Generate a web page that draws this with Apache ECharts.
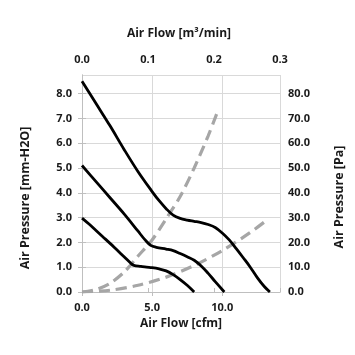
<!DOCTYPE html>
<html>
<head>
<meta charset="utf-8">
<script src="https://cdn.jsdelivr.net/npm/echarts@6/dist/echarts.min.js"></script>
<style>html,body{margin:0;padding:0;background:#fff;}#c{width:355px;height:355px;}</style>
</head>
<body>
<div id="c"></div>
<script>
// Air flow (cfm) / static pressure (mm-H2O) readings
const curveHigh = [[0,8.5],[1,7.6],[2,6.7],[3,5.75],[4,4.85],[5,4.05],[5.5,3.68],[6,3.36],[6.5,3.1],[7,2.97],[7.5,2.9],[8,2.85],[8.5,2.8],[9,2.72],[9.5,2.6],[10,2.38],[10.5,2.1],[11,1.75],[11.5,1.38],[12,1.0],[12.5,0.58],[13,0.22],[13.4,0]];
const curveMid = [[0,5.1],[1,4.45],[2,3.8],[3,3.15],[4,2.45],[4.5,2.1],[4.9,1.88],[5.3,1.8],[6,1.73],[6.5,1.67],[7,1.55],[7.5,1.42],[8,1.28],[8.5,1.05],[9,0.75],[9.5,0.42],[10.15,0]];
const curveLow = [[0,2.98],[0.5,2.74],[1,2.48],[1.5,2.22],[2,1.96],[2.5,1.69],[3,1.42],[3.5,1.15],[3.7,1.07],[4.2,1.03],[4.6,1.0],[5,0.98],[5.5,0.93],[6,0.85],[6.5,0.7],[7,0.5],[7.5,0.27],[8,0]];
const impedanceSteep = [[0,0],[1,0.1],[2,0.35],[3,0.8],[4,1.45],[5,2.1],[6,2.95],[7,3.85],[8,5.0],[9,6.3],[9.65,7.25]];
const impedanceShallow = [[0,0],[2,0.07],[4,0.27],[6,0.6],[8,1.07],[10,1.67],[12,2.4],[13.3,2.95]];

const bottomTitle = 'Air Flow [cfm]';
const topTitle = 'Air Flow [m³/min]';
const leftTitle = 'Air Pressure [mm-H2O]';
const rightTitle = 'Air Pressure [Pa]';

const FONT = '"Open Sans", sans-serif';
const TXT = '#1a1a1a';
const AX = '#bfbfbf';
const GRID = '#d9d9d9';

const lbl = (fixed) => ({
  color: TXT, fontFamily: FONT, fontWeight: 'bold', fontSize: 11,
  formatter: v => (Math.abs(v / fixed.step - Math.round(v / fixed.step)) < 1e-6 ? Number(v).toFixed(1) : '')
});

const chart = echarts.init(document.getElementById('c'), null, {renderer: 'canvas'});
const blackLine = (d) => ({type: 'line', data: d, xAxisIndex: 0, yAxisIndex: 0, smooth: 0.35, symbol: 'none',
  lineStyle: {color: '#000', width: 2.8}, z: 3});
const dashLine = (d) => ({type: 'line', data: d, xAxisIndex: 0, yAxisIndex: 0, smooth: 0.3, symbol: 'none',
  lineStyle: {color: '#a6a6a6', width: 3.2, type: [11, 6]}, z: 2});

chart.setOption({
  animation: false,
  backgroundColor: '#fff',
  grid: {left: 82, right: 75, top: 75, bottom: 63, containLabel: false},
  xAxis: [
    {type: 'value', position: 'bottom', min: 0, max: 14.12, interval: 5,
     axisLine: {show: true, lineStyle: {color: AX, width: 1}},
     axisTick: {show: true, length: 4, lineStyle: {color: AX}},
     splitLine: {show: true, lineStyle: {color: GRID, width: 1}},
     axisLabel: Object.assign(lbl({step: 5}), {margin: 10, showMaxLabel: false})},
    {type: 'value', position: 'top', min: 0, max: 0.3, interval: 0.1,
     axisLine: {show: true, lineStyle: {color: AX, width: 1}},
     axisTick: {show: true, length: 4, lineStyle: {color: AX}},
     splitLine: {show: false},
     axisLabel: Object.assign(lbl({step: 0.1}), {margin: 10})}
  ],
  yAxis: [
    {type: 'value', position: 'left', min: 0, max: 8.75, interval: 1,
     axisLine: {show: true, lineStyle: {color: AX, width: 1}},
     axisTick: {show: true, length: 4, lineStyle: {color: AX}},
     splitLine: {show: true, lineStyle: {color: GRID, width: 1}},
     axisLabel: Object.assign(lbl({step: 1}), {margin: 10, showMaxLabel: false})},
    {type: 'value', position: 'right', min: 0, max: 87.5, interval: 10,
     axisLine: {show: true, lineStyle: {color: AX, width: 1}},
     axisTick: {show: true, length: 4, lineStyle: {color: AX}},
     splitLine: {show: false},
     axisLabel: Object.assign(lbl({step: 10}), {margin: 8, showMaxLabel: false})}
  ],
  graphic: [
    {type: 'text', x: 179, y: 34, style: {text: topTitle, fill: TXT, font: 'bold 12px ' + FONT, textAlign: 'center', textVerticalAlign: 'middle'}},
    {type: 'text', x: 181, y: 324, style: {text: bottomTitle, fill: TXT, font: 'bold 12px ' + FONT, textAlign: 'center', textVerticalAlign: 'middle'}},
    {type: 'text', x: 25, y: 198, rotation: Math.PI / 2, style: {text: leftTitle, fill: TXT, font: 'bold 12.5px ' + FONT, textAlign: 'center', textVerticalAlign: 'middle'}},
    {type: 'text', x: 339, y: 197, rotation: Math.PI / 2, style: {text: rightTitle, fill: TXT, font: 'bold 12.5px ' + FONT, textAlign: 'center', textVerticalAlign: 'middle'}}
  ],
  series: [
    dashLine(impedanceSteep),
    dashLine(impedanceShallow),
    blackLine(curveHigh),
    blackLine(curveMid),
    blackLine(curveLow)
  ]
});
</script>
</body>
</html>
